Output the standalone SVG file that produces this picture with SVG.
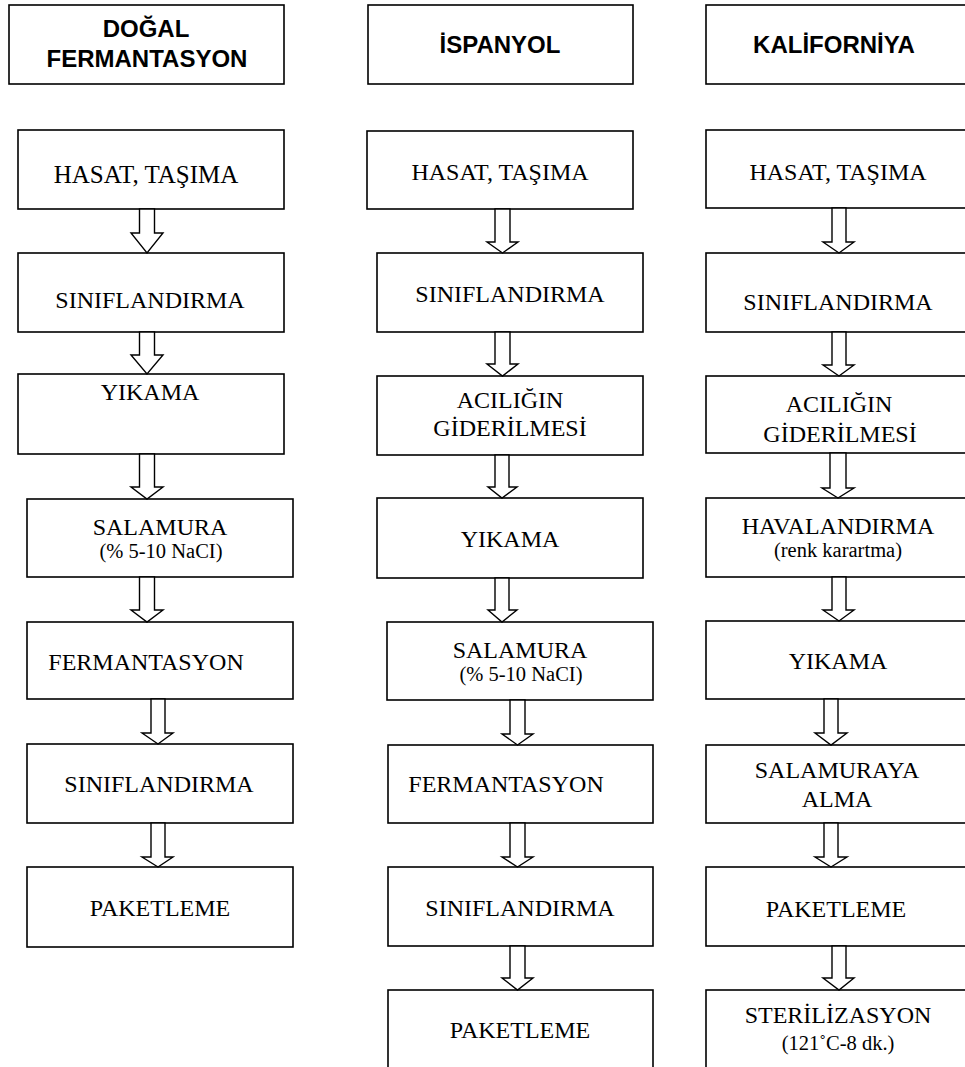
<svg xmlns="http://www.w3.org/2000/svg" width="965" height="1067" viewBox="0 0 965 1067">
<style>
rect{fill:#fff;stroke:#000;stroke-width:1.6}
.h{font-family:"Liberation Sans",Arial,sans-serif;font-weight:bold;font-size:24px;text-anchor:middle;fill:#000}
.t{font-family:"Liberation Serif","Times New Roman",serif;font-size:24px;text-anchor:middle;fill:#000}
.s{font-family:"Liberation Serif","Times New Roman",serif;font-size:20.5px;text-anchor:middle;fill:#000}
#connectors polygon{fill:#fff;stroke:#000;stroke-width:1.4;stroke-linejoin:miter}
</style>
<rect x="0" y="0" width="965" height="1067" style="fill:#fff;stroke:none"/>
<!-- Column 1 -->
<g id="h1"><rect x="9" y="5" width="275" height="79"/><text class="h" x="146" y="37">DOĞAL</text><text class="h" x="147" y="67">FERMANTASYON</text></g>
<g id="c1n1"><rect x="18" y="130" width="266" height="79"/><text class="t" x="146" y="183" style="font-size:25px">HASAT, TAŞIMA</text></g>
<g id="c1n2"><rect x="18" y="253" width="266" height="79"/><text class="t" x="150" y="308">SINIFLANDIRMA</text></g>
<g id="c1n3"><rect x="18" y="374" width="266" height="80"/><text class="t" x="150" y="400">YIKAMA</text></g>
<g id="c1n4"><rect x="27" y="499" width="266" height="78"/><text class="t" x="160" y="535">SALAMURA</text><text class="s" x="161" y="558">(% 5-10 NaCI)</text></g>
<g id="c1n5"><rect x="27" y="622" width="266" height="77"/><text class="t" x="146" y="670">FERMANTASYON</text></g>
<g id="c1n6"><rect x="27" y="744" width="266" height="79"/><text class="t" x="159" y="792">SINIFLANDIRMA</text></g>
<g id="c1n7"><rect x="27" y="867" width="266" height="80"/><text class="t" x="160" y="916">PAKETLEME</text></g>
<!-- Column 2 -->
<g id="h2"><rect x="368" y="5" width="265" height="79"/><text class="h" x="500" y="53">İSPANYOL</text></g>
<g id="c2n1"><rect x="367" y="131" width="266" height="78"/><text class="t" x="500" y="180">HASAT, TAŞIMA</text></g>
<g id="c2n2"><rect x="377" y="253" width="266" height="79"/><text class="t" x="510" y="302">SINIFLANDIRMA</text></g>
<g id="c2n3"><rect x="377" y="376" width="266" height="79"/><text class="t" x="510" y="408">ACILIĞIN</text><text class="t" x="510" y="436">GİDERİLMESİ</text></g>
<g id="c2n4"><rect x="377" y="498" width="266" height="80"/><text class="t" x="510" y="547">YIKAMA</text></g>
<g id="c2n5"><rect x="387" y="622" width="266" height="78"/><text class="t" x="520" y="658">SALAMURA</text><text class="s" x="521" y="681">(% 5-10 NaCI)</text></g>
<g id="c2n6"><rect x="388" y="745" width="265" height="78"/><text class="t" x="506" y="792">FERMANTASYON</text></g>
<g id="c2n7"><rect x="388" y="867" width="265" height="79"/><text class="t" x="520" y="916">SINIFLANDIRMA</text></g>
<g id="c2n8"><rect x="388" y="990" width="265" height="90"/><text class="t" x="520" y="1038">PAKETLEME</text></g>
<!-- Column 3 -->
<g id="h3"><rect x="706" y="5" width="266" height="79"/><text class="h" x="834" y="53">KALİFORNİYA</text></g>
<g id="c3n1"><rect x="706" y="130" width="266" height="78"/><text class="t" x="838" y="180">HASAT, TAŞIMA</text></g>
<g id="c3n2"><rect x="706" y="253" width="266" height="79"/><text class="t" x="838" y="310">SINIFLANDIRMA</text></g>
<g id="c3n3"><rect x="706" y="376" width="266" height="77"/><text class="t" x="839" y="412">ACILIĞIN</text><text class="t" x="840" y="442">GİDERİLMESİ</text></g>
<g id="c3n4"><rect x="706" y="498" width="266" height="79"/><text class="t" x="838" y="534">HAVALANDIRMA</text><text class="s" x="838" y="557">(renk karartma)</text></g>
<g id="c3n5"><rect x="706" y="621" width="266" height="78"/><text class="t" x="838" y="669">YIKAMA</text></g>
<g id="c3n6"><rect x="706" y="745" width="266" height="78"/><text class="t" x="837" y="778">SALAMURAYA</text><text class="t" x="837" y="807">ALMA</text></g>
<g id="c3n7"><rect x="706" y="867" width="266" height="79"/><text class="t" x="836" y="917">PAKETLEME</text></g>
<g id="c3n8"><rect x="706" y="990" width="266" height="90"/><text class="t" x="838" y="1023">STERİLİZASYON</text><text class="s" x="838" y="1050">(121˚C-8 dk.)</text></g>
<!-- Connectors -->
<g id="connectors">
<polygon points="139.5,209 154.5,209 154.5,233 163,233 147,253 131,233 139.5,233"/>
<polygon points="139.5,332 154.5,332 154.5,355 163,355 147,374 131,355 139.5,355"/>
<polygon points="139.5,454 154.5,454 154.5,487 163,487 147,499 131,487 139.5,487"/>
<polygon points="139.5,577 154.5,577 154.5,610 163,610 147,622 131,610 139.5,610"/>
<polygon points="151,699 165,699 165,733 173,733 158,744 142,733 151,733"/>
<polygon points="151,823 165,823 165,857 173,857 158,867 142,857 151,857"/>

<polygon points="495,209 510,209 510,242 518,242 502.5,253 487,242 495,242"/>
<polygon points="495,332 510,332 510,364 518,364 502.5,376 487,364 495,364"/>
<polygon points="495,455 509,455 509,487 517,487 502,498 488,487 495,487"/>
<polygon points="495,578 509,578 509,610 517,610 502,622 488,610 495,610"/>
<polygon points="510,700 525,700 525,734 533,734 517.5,745 502,734 510,734"/>
<polygon points="510,823 525,823 525,857 533,857 517.5,867 502,857 510,857"/>
<polygon points="510,946 525,946 525,978 533,978 517.5,990 502,978 510,978"/>

<polygon points="832,208 846,208 846,242 854,242 839,253 823,242 832,242"/>
<polygon points="832,332 846,332 846,365 854,365 839,376 823,365 832,365"/>
<polygon points="830,453 846,453 846,488 854,488 838,498 822,488 830,488"/>
<polygon points="832,577 846,577 846,610 854,610 839,621 823,610 832,610"/>
<polygon points="824,699 838,699 838,733 847,733 831,745 815,733 824,733"/>
<polygon points="824,823 838,823 838,857 847,857 831,867 815,857 824,857"/>
<polygon points="832,946 846,946 846,978 854,978 839,990 823,978 832,978"/>
</g>
</svg>
